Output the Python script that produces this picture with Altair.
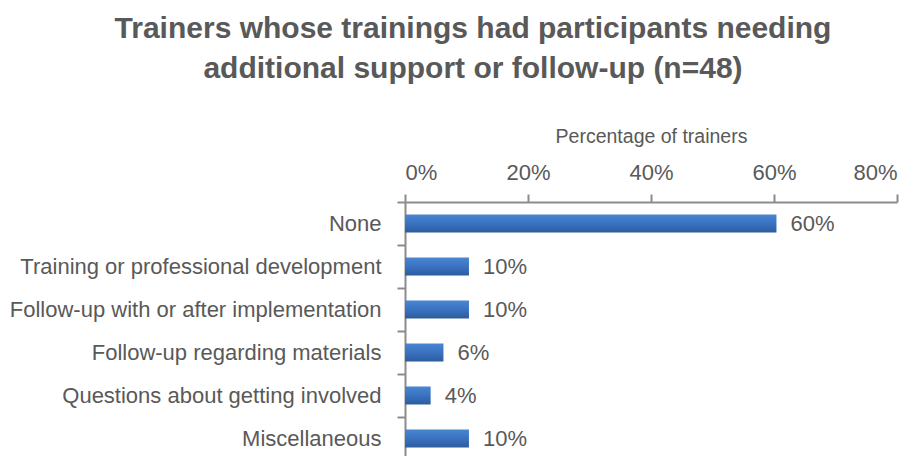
import altair as alt
import pandas as pd

categories = [
    "None",
    "Training or professional development",
    "Follow-up with or after implementation",
    "Follow-up regarding materials",
    "Questions about getting involved",
    "Miscellaneous",
]
values_pct = [60.4, 10.4, 10.4, 6.25, 4.17, 10.4]
tick_values = [0, 0.2, 0.4, 0.6, 0.8]
title_lines = [
    "Trainers whose trainings had participants needing",
    "additional support or follow-up (n=48)",
]

df = pd.DataFrame({"category": categories, "value": [v / 100 for v in values_pct]})

FONT = "Liberation Sans, Arial, sans-serif"
GRAY = "#595959"
AXIS = "#8c8c8c"

grad = alt.Gradient(
    gradient="linear",
    stops=[
        alt.GradientStop(color="#4a86d2", offset=0),
        alt.GradientStop(color="#3a72c0", offset=0.5),
        alt.GradientStop(color="#2d5c9c", offset=1),
    ],
    x1=0, x2=0, y1=0, y2=1,
)

base = alt.Chart(df).encode(
    y=alt.Y(
        "category:N",
        sort=categories,
        title=None,
        scale=alt.Scale(paddingInner=0, paddingOuter=0),
        axis=alt.Axis(
            tickBand="extent",
            tickSize=8,
            tickColor=AXIS,
            tickWidth=2,
            domainColor=AXIS,
            domainWidth=2,
            labelPadding=16,
            labelLimit=0,
            labelFont=FONT,
            labelFontSize=22,
            labelColor=GRAY,
            grid=False,
        ),
    ),
    x=alt.X(
        "value:Q",
        scale=alt.Scale(domain=[0, 0.8]),
        axis=alt.Axis(
            orient="top",
            format=".0%",
            values=tick_values,
            title="Percentage of trainers",
            titleFont=FONT,
            titleFontSize=19.5,
            titleFontWeight="normal",
            titleColor=GRAY,
            titlePadding=15,
            tickSize=8,
            tickColor=AXIS,
            tickWidth=2,
            domainColor=AXIS,
            domainWidth=2,
            labelPadding=10,
            labelFont=FONT,
            labelFontSize=22,
            labelColor=GRAY,
            grid=False,
        ),
    ),
)

bars = base.mark_bar(size=18, color=grad)
labels = base.mark_text(
    align="left", baseline="middle", dx=14, fontSize=22, font=FONT, color=GRAY
).encode(text=alt.Text("value:Q", format=".0%"))

chart = (
    alt.layer(bars, labels)
    .properties(
        width=492,
        height=258,
        autosize=alt.AutoSizeParams(type="none"),
        padding={"left": 397, "top": 194, "right": 15, "bottom": 0},
        title=alt.Title(
            title_lines,
            font=FONT,
            fontSize=30,
            fontWeight="bold",
            color=GRAY,
            anchor="middle",
            dx=-178,
            dy=-38,
            lineHeight=40,
        ),
    )
    .configure_view(stroke=None)
)

chart.save("out.html", embed_options={"renderer": "svg", "actions": False})
